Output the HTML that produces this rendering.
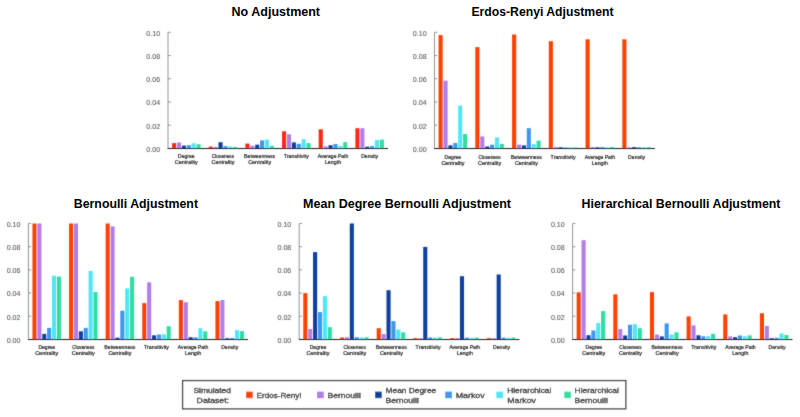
<!DOCTYPE html>
<html><head><meta charset="utf-8"><title>Chart</title>
<style>html,body{margin:0;padding:0;background:#fff;width:800px;height:417px;overflow:hidden;}svg{display:block;font-family:"Liberation Sans",sans-serif;}</style>
</head><body><div id="w">
<svg width="800" height="417" viewBox="0 0 800 417">
<defs><filter id="bl" x="0" y="0" width="100%" height="100%" filterUnits="userSpaceOnUse"><feConvolveMatrix order="3" kernelMatrix="1 2 1 2 20 2 1 2 1" divisor="32" edgeMode="duplicate" preserveAlpha="false"/></filter></defs>
<rect x="0" y="0" width="800" height="417" fill="#ffffff"/>
<g filter="url(#bl)">
<text x="160.1" y="151.8" font-family="Liberation Sans" font-size="7.9" fill="#5a5a5a" stroke="#5a5a5a" stroke-width="0.1" text-anchor="end" textLength="13.8" lengthAdjust="spacingAndGlyphs">0.00</text>
<text x="160.1" y="128.58" font-family="Liberation Sans" font-size="7.9" fill="#5a5a5a" stroke="#5a5a5a" stroke-width="0.1" text-anchor="end" textLength="13.8" lengthAdjust="spacingAndGlyphs">0.02</text>
<text x="160.1" y="105.36" font-family="Liberation Sans" font-size="7.9" fill="#5a5a5a" stroke="#5a5a5a" stroke-width="0.1" text-anchor="end" textLength="13.8" lengthAdjust="spacingAndGlyphs">0.04</text>
<text x="160.1" y="82.14" font-family="Liberation Sans" font-size="7.9" fill="#5a5a5a" stroke="#5a5a5a" stroke-width="0.1" text-anchor="end" textLength="13.8" lengthAdjust="spacingAndGlyphs">0.06</text>
<text x="160.1" y="58.92" font-family="Liberation Sans" font-size="7.9" fill="#5a5a5a" stroke="#5a5a5a" stroke-width="0.1" text-anchor="end" textLength="13.8" lengthAdjust="spacingAndGlyphs">0.08</text>
<text x="160.1" y="35.7" font-family="Liberation Sans" font-size="7.9" fill="#5a5a5a" stroke="#5a5a5a" stroke-width="0.1" text-anchor="end" textLength="13.8" lengthAdjust="spacingAndGlyphs">0.10</text>
<rect x="172.07" y="143.1" width="4.09" height="5.3" fill="#ff2612"/>
<rect x="176.96" y="142.5" width="4.09" height="5.9" fill="#b07de9"/>
<rect x="181.84" y="145.6" width="4.09" height="2.8" fill="#0c409e"/>
<rect x="186.73" y="145.2" width="4.09" height="3.2" fill="#3c96f0"/>
<rect x="191.62" y="143.3" width="4.09" height="5.1" fill="#4fe7f5"/>
<rect x="196.51" y="144.2" width="4.09" height="4.2" fill="#2edf9f"/>
<text x="186.33" y="158" font-family="Liberation Sans" font-size="5.7" fill="#262626" stroke="#262626" stroke-width="0.22" text-anchor="middle" textLength="16.6" lengthAdjust="spacingAndGlyphs">Degree</text>
<text x="186.33" y="163.8" font-family="Liberation Sans" font-size="5.7" fill="#262626" stroke="#262626" stroke-width="0.22" text-anchor="middle" textLength="23" lengthAdjust="spacingAndGlyphs">Centrality</text>
<rect x="208.73" y="146.6" width="4.09" height="1.8" fill="#ff2612"/>
<rect x="213.62" y="147" width="4.09" height="1.4" fill="#b07de9"/>
<rect x="218.51" y="142.2" width="4.09" height="6.2" fill="#0c409e"/>
<rect x="223.4" y="146.2" width="4.09" height="2.2" fill="#3c96f0"/>
<rect x="228.29" y="146.4" width="4.09" height="2" fill="#4fe7f5"/>
<rect x="233.18" y="146.9" width="4.09" height="1.5" fill="#2edf9f"/>
<text x="223" y="158" font-family="Liberation Sans" font-size="5.7" fill="#262626" stroke="#262626" stroke-width="0.22" text-anchor="middle" textLength="22.3" lengthAdjust="spacingAndGlyphs">Closeness</text>
<text x="223" y="163.8" font-family="Liberation Sans" font-size="5.7" fill="#262626" stroke="#262626" stroke-width="0.22" text-anchor="middle" textLength="23" lengthAdjust="spacingAndGlyphs">Centrality</text>
<rect x="245.4" y="143.6" width="4.09" height="4.8" fill="#ff2612"/>
<rect x="250.29" y="145.8" width="4.09" height="2.6" fill="#b07de9"/>
<rect x="255.18" y="144.7" width="4.09" height="3.7" fill="#0c409e"/>
<rect x="260.07" y="140.4" width="4.09" height="8" fill="#3c96f0"/>
<rect x="264.96" y="139.6" width="4.09" height="8.8" fill="#4fe7f5"/>
<rect x="269.84" y="145.9" width="4.09" height="2.5" fill="#2edf9f"/>
<text x="259.67" y="158" font-family="Liberation Sans" font-size="5.7" fill="#262626" stroke="#262626" stroke-width="0.22" text-anchor="middle" textLength="31.1" lengthAdjust="spacingAndGlyphs">Betweenness</text>
<text x="259.67" y="163.8" font-family="Liberation Sans" font-size="5.7" fill="#262626" stroke="#262626" stroke-width="0.22" text-anchor="middle" textLength="23" lengthAdjust="spacingAndGlyphs">Centrality</text>
<rect x="282.07" y="131.3" width="4.09" height="17.1" fill="#ff2612"/>
<rect x="286.96" y="134.3" width="4.09" height="14.1" fill="#b07de9"/>
<rect x="291.84" y="142.4" width="4.09" height="6" fill="#0c409e"/>
<rect x="296.73" y="143.8" width="4.09" height="4.6" fill="#3c96f0"/>
<rect x="301.62" y="139.1" width="4.09" height="9.3" fill="#4fe7f5"/>
<rect x="306.51" y="143.1" width="4.09" height="5.3" fill="#2edf9f"/>
<text x="296.33" y="158" font-family="Liberation Sans" font-size="5.7" fill="#262626" stroke="#262626" stroke-width="0.22" text-anchor="middle" textLength="25" lengthAdjust="spacingAndGlyphs">Transitivity</text>
<rect x="318.73" y="129.3" width="4.09" height="19.1" fill="#ff2612"/>
<rect x="323.62" y="146.4" width="4.09" height="2" fill="#b07de9"/>
<rect x="328.51" y="145.2" width="4.09" height="3.2" fill="#0c409e"/>
<rect x="333.4" y="144" width="4.09" height="4.4" fill="#3c96f0"/>
<rect x="338.29" y="145.9" width="4.09" height="2.5" fill="#4fe7f5"/>
<rect x="343.18" y="142.1" width="4.09" height="6.3" fill="#2edf9f"/>
<text x="333" y="158" font-family="Liberation Sans" font-size="5.7" fill="#262626" stroke="#262626" stroke-width="0.22" text-anchor="middle" textLength="30.5" lengthAdjust="spacingAndGlyphs">Average Path</text>
<text x="333" y="163.8" font-family="Liberation Sans" font-size="5.7" fill="#262626" stroke="#262626" stroke-width="0.22" text-anchor="middle" textLength="16.2" lengthAdjust="spacingAndGlyphs">Length</text>
<rect x="355.4" y="128.2" width="4.09" height="20.2" fill="#ff2612"/>
<rect x="360.29" y="128.2" width="4.09" height="20.2" fill="#b07de9"/>
<rect x="365.18" y="146.7" width="4.09" height="1.7" fill="#0c409e"/>
<rect x="370.07" y="146.1" width="4.09" height="2.3" fill="#3c96f0"/>
<rect x="374.96" y="139.9" width="4.09" height="8.5" fill="#4fe7f5"/>
<rect x="379.84" y="139.6" width="4.09" height="8.8" fill="#2edf9f"/>
<text x="369.67" y="158" font-family="Liberation Sans" font-size="5.7" fill="#262626" stroke="#262626" stroke-width="0.22" text-anchor="middle" textLength="17" lengthAdjust="spacingAndGlyphs">Density</text>
<line x1="168" y1="32.3" x2="168" y2="148.5" stroke="#8f959c" stroke-width="1"/>
<line x1="168" y1="148.4" x2="170.8" y2="148.4" stroke="#8a8a8a" stroke-width="0.9"/>
<line x1="168" y1="125.18" x2="170.8" y2="125.18" stroke="#8a8a8a" stroke-width="0.9"/>
<line x1="168" y1="101.96" x2="170.8" y2="101.96" stroke="#8a8a8a" stroke-width="0.9"/>
<line x1="168" y1="78.74" x2="170.8" y2="78.74" stroke="#8a8a8a" stroke-width="0.9"/>
<line x1="168" y1="55.52" x2="170.8" y2="55.52" stroke="#8a8a8a" stroke-width="0.9"/>
<line x1="168" y1="32.3" x2="170.8" y2="32.3" stroke="#8a8a8a" stroke-width="0.9"/>
<line x1="167.5" y1="148.5" x2="388" y2="148.5" stroke="#222" stroke-width="1.1"/>
<text x="426.6" y="151.8" font-family="Liberation Sans" font-size="7.9" fill="#5a5a5a" stroke="#5a5a5a" stroke-width="0.1" text-anchor="end" textLength="13.8" lengthAdjust="spacingAndGlyphs">0.00</text>
<text x="426.6" y="128.58" font-family="Liberation Sans" font-size="7.9" fill="#5a5a5a" stroke="#5a5a5a" stroke-width="0.1" text-anchor="end" textLength="13.8" lengthAdjust="spacingAndGlyphs">0.02</text>
<text x="426.6" y="105.36" font-family="Liberation Sans" font-size="7.9" fill="#5a5a5a" stroke="#5a5a5a" stroke-width="0.1" text-anchor="end" textLength="13.8" lengthAdjust="spacingAndGlyphs">0.04</text>
<text x="426.6" y="82.14" font-family="Liberation Sans" font-size="7.9" fill="#5a5a5a" stroke="#5a5a5a" stroke-width="0.1" text-anchor="end" textLength="13.8" lengthAdjust="spacingAndGlyphs">0.06</text>
<text x="426.6" y="58.92" font-family="Liberation Sans" font-size="7.9" fill="#5a5a5a" stroke="#5a5a5a" stroke-width="0.1" text-anchor="end" textLength="13.8" lengthAdjust="spacingAndGlyphs">0.08</text>
<text x="426.6" y="35.7" font-family="Liberation Sans" font-size="7.9" fill="#5a5a5a" stroke="#5a5a5a" stroke-width="0.1" text-anchor="end" textLength="13.8" lengthAdjust="spacingAndGlyphs">0.10</text>
<rect x="438.57" y="35.1" width="4.1" height="113.3" fill="#ff4100"/>
<rect x="443.47" y="80.7" width="4.1" height="67.7" fill="#b07de9"/>
<rect x="448.38" y="145.3" width="4.1" height="3.1" fill="#0c409e"/>
<rect x="453.27" y="143" width="4.1" height="5.4" fill="#3c96f0"/>
<rect x="458.18" y="105.6" width="4.1" height="42.8" fill="#4fe7f5"/>
<rect x="463.07" y="134" width="4.1" height="14.4" fill="#2edf9f"/>
<text x="452.88" y="159.1" font-family="Liberation Sans" font-size="5.7" fill="#262626" stroke="#262626" stroke-width="0.22" text-anchor="middle" textLength="16.6" lengthAdjust="spacingAndGlyphs">Degree</text>
<text x="452.88" y="164.9" font-family="Liberation Sans" font-size="5.7" fill="#262626" stroke="#262626" stroke-width="0.22" text-anchor="middle" textLength="23" lengthAdjust="spacingAndGlyphs">Centrality</text>
<rect x="475.32" y="47.1" width="4.1" height="101.3" fill="#ff4100"/>
<rect x="480.22" y="136.4" width="4.1" height="12" fill="#b07de9"/>
<rect x="485.12" y="146.5" width="4.1" height="1.9" fill="#0c409e"/>
<rect x="490.02" y="144.7" width="4.1" height="3.7" fill="#3c96f0"/>
<rect x="494.93" y="137.4" width="4.1" height="11" fill="#4fe7f5"/>
<rect x="499.82" y="143.9" width="4.1" height="4.5" fill="#2edf9f"/>
<text x="489.62" y="159.1" font-family="Liberation Sans" font-size="5.7" fill="#262626" stroke="#262626" stroke-width="0.22" text-anchor="middle" textLength="22.3" lengthAdjust="spacingAndGlyphs">Closeness</text>
<text x="489.62" y="164.9" font-family="Liberation Sans" font-size="5.7" fill="#262626" stroke="#262626" stroke-width="0.22" text-anchor="middle" textLength="23" lengthAdjust="spacingAndGlyphs">Centrality</text>
<rect x="512.08" y="34.5" width="4.1" height="113.9" fill="#ff4100"/>
<rect x="516.98" y="144.6" width="4.1" height="3.8" fill="#b07de9"/>
<rect x="521.88" y="145.4" width="4.1" height="3" fill="#0c409e"/>
<rect x="526.77" y="128.2" width="4.1" height="20.2" fill="#3c96f0"/>
<rect x="531.67" y="144.1" width="4.1" height="4.3" fill="#4fe7f5"/>
<rect x="536.57" y="140.7" width="4.1" height="7.7" fill="#2edf9f"/>
<text x="526.38" y="159.1" font-family="Liberation Sans" font-size="5.7" fill="#262626" stroke="#262626" stroke-width="0.22" text-anchor="middle" textLength="31.1" lengthAdjust="spacingAndGlyphs">Betweenness</text>
<text x="526.38" y="164.9" font-family="Liberation Sans" font-size="5.7" fill="#262626" stroke="#262626" stroke-width="0.22" text-anchor="middle" textLength="23" lengthAdjust="spacingAndGlyphs">Centrality</text>
<rect x="548.82" y="41.2" width="4.1" height="107.2" fill="#ff4100"/>
<rect x="553.72" y="147.1" width="4.1" height="1.3" fill="#b07de9"/>
<rect x="558.62" y="147.3" width="4.1" height="1.1" fill="#0c409e"/>
<rect x="563.52" y="147.4" width="4.1" height="1" fill="#3c96f0"/>
<rect x="568.42" y="147.4" width="4.1" height="1" fill="#4fe7f5"/>
<rect x="573.32" y="147.4" width="4.1" height="1" fill="#2edf9f"/>
<text x="563.12" y="159.1" font-family="Liberation Sans" font-size="5.7" fill="#262626" stroke="#262626" stroke-width="0.22" text-anchor="middle" textLength="25" lengthAdjust="spacingAndGlyphs">Transitivity</text>
<rect x="585.57" y="39.3" width="4.1" height="109.1" fill="#ff4100"/>
<rect x="590.47" y="147.1" width="4.1" height="1.3" fill="#b07de9"/>
<rect x="595.37" y="147.3" width="4.1" height="1.1" fill="#0c409e"/>
<rect x="600.27" y="147.1" width="4.1" height="1.3" fill="#3c96f0"/>
<rect x="605.17" y="147.3" width="4.1" height="1.1" fill="#4fe7f5"/>
<rect x="610.07" y="147.1" width="4.1" height="1.3" fill="#2edf9f"/>
<text x="599.88" y="159.1" font-family="Liberation Sans" font-size="5.7" fill="#262626" stroke="#262626" stroke-width="0.22" text-anchor="middle" textLength="30.5" lengthAdjust="spacingAndGlyphs">Average Path</text>
<text x="599.88" y="164.9" font-family="Liberation Sans" font-size="5.7" fill="#262626" stroke="#262626" stroke-width="0.22" text-anchor="middle" textLength="16.2" lengthAdjust="spacingAndGlyphs">Length</text>
<rect x="622.32" y="39.3" width="4.1" height="109.1" fill="#ff4100"/>
<rect x="627.22" y="147.3" width="4.1" height="1.1" fill="#b07de9"/>
<rect x="632.12" y="147.1" width="4.1" height="1.3" fill="#0c409e"/>
<rect x="637.02" y="147.3" width="4.1" height="1.1" fill="#3c96f0"/>
<rect x="641.92" y="147.3" width="4.1" height="1.1" fill="#4fe7f5"/>
<rect x="646.82" y="147.3" width="4.1" height="1.1" fill="#2edf9f"/>
<text x="636.62" y="159.1" font-family="Liberation Sans" font-size="5.7" fill="#262626" stroke="#262626" stroke-width="0.22" text-anchor="middle" textLength="17" lengthAdjust="spacingAndGlyphs">Density</text>
<line x1="434.5" y1="32.3" x2="434.5" y2="148.5" stroke="#8f959c" stroke-width="1"/>
<line x1="434.5" y1="148.4" x2="437.3" y2="148.4" stroke="#8a8a8a" stroke-width="0.9"/>
<line x1="434.5" y1="125.18" x2="437.3" y2="125.18" stroke="#8a8a8a" stroke-width="0.9"/>
<line x1="434.5" y1="101.96" x2="437.3" y2="101.96" stroke="#8a8a8a" stroke-width="0.9"/>
<line x1="434.5" y1="78.74" x2="437.3" y2="78.74" stroke="#8a8a8a" stroke-width="0.9"/>
<line x1="434.5" y1="55.52" x2="437.3" y2="55.52" stroke="#8a8a8a" stroke-width="0.9"/>
<line x1="434.5" y1="32.3" x2="437.3" y2="32.3" stroke="#8a8a8a" stroke-width="0.9"/>
<line x1="434" y1="148.5" x2="655" y2="148.5" stroke="#222" stroke-width="1.1"/>
<text x="20.5" y="342.8" font-family="Liberation Sans" font-size="7.9" fill="#5a5a5a" stroke="#5a5a5a" stroke-width="0.1" text-anchor="end" textLength="13.8" lengthAdjust="spacingAndGlyphs">0.00</text>
<text x="20.5" y="319.62" font-family="Liberation Sans" font-size="7.9" fill="#5a5a5a" stroke="#5a5a5a" stroke-width="0.1" text-anchor="end" textLength="13.8" lengthAdjust="spacingAndGlyphs">0.02</text>
<text x="20.5" y="296.44" font-family="Liberation Sans" font-size="7.9" fill="#5a5a5a" stroke="#5a5a5a" stroke-width="0.1" text-anchor="end" textLength="13.8" lengthAdjust="spacingAndGlyphs">0.04</text>
<text x="20.5" y="273.26" font-family="Liberation Sans" font-size="7.9" fill="#5a5a5a" stroke="#5a5a5a" stroke-width="0.1" text-anchor="end" textLength="13.8" lengthAdjust="spacingAndGlyphs">0.06</text>
<text x="20.5" y="250.08" font-family="Liberation Sans" font-size="7.9" fill="#5a5a5a" stroke="#5a5a5a" stroke-width="0.1" text-anchor="end" textLength="13.8" lengthAdjust="spacingAndGlyphs">0.08</text>
<text x="20.5" y="226.9" font-family="Liberation Sans" font-size="7.9" fill="#5a5a5a" stroke="#5a5a5a" stroke-width="0.1" text-anchor="end" textLength="13.8" lengthAdjust="spacingAndGlyphs">0.10</text>
<rect x="32.46" y="223.5" width="4.08" height="115.9" fill="#ff4100"/>
<rect x="37.34" y="223.5" width="4.08" height="115.9" fill="#b07de9"/>
<rect x="42.22" y="333.9" width="4.08" height="5.5" fill="#0c409e"/>
<rect x="47.1" y="327.9" width="4.08" height="11.5" fill="#3c96f0"/>
<rect x="51.98" y="275.7" width="4.08" height="63.7" fill="#4fe7f5"/>
<rect x="56.86" y="276.6" width="4.08" height="62.8" fill="#2edf9f"/>
<text x="46.7" y="349.3" font-family="Liberation Sans" font-size="5.7" fill="#262626" stroke="#262626" stroke-width="0.22" text-anchor="middle" textLength="16.6" lengthAdjust="spacingAndGlyphs">Degree</text>
<text x="46.7" y="355.1" font-family="Liberation Sans" font-size="5.7" fill="#262626" stroke="#262626" stroke-width="0.22" text-anchor="middle" textLength="23" lengthAdjust="spacingAndGlyphs">Centrality</text>
<rect x="69.06" y="223.5" width="4.08" height="115.9" fill="#ff4100"/>
<rect x="73.94" y="223.5" width="4.08" height="115.9" fill="#b07de9"/>
<rect x="78.82" y="331.3" width="4.08" height="8.1" fill="#0c409e"/>
<rect x="83.7" y="327.9" width="4.08" height="11.5" fill="#3c96f0"/>
<rect x="88.58" y="271" width="4.08" height="68.4" fill="#4fe7f5"/>
<rect x="93.46" y="292" width="4.08" height="47.4" fill="#2edf9f"/>
<text x="83.3" y="349.3" font-family="Liberation Sans" font-size="5.7" fill="#262626" stroke="#262626" stroke-width="0.22" text-anchor="middle" textLength="22.3" lengthAdjust="spacingAndGlyphs">Closeness</text>
<text x="83.3" y="355.1" font-family="Liberation Sans" font-size="5.7" fill="#262626" stroke="#262626" stroke-width="0.22" text-anchor="middle" textLength="23" lengthAdjust="spacingAndGlyphs">Centrality</text>
<rect x="105.66" y="223.5" width="4.08" height="115.9" fill="#ff4100"/>
<rect x="110.54" y="226.4" width="4.08" height="113" fill="#b07de9"/>
<rect x="115.42" y="337.7" width="4.08" height="1.7" fill="#0c409e"/>
<rect x="120.3" y="310.7" width="4.08" height="28.7" fill="#3c96f0"/>
<rect x="125.18" y="288.4" width="4.08" height="51" fill="#4fe7f5"/>
<rect x="130.06" y="276.8" width="4.08" height="62.6" fill="#2edf9f"/>
<text x="119.9" y="349.3" font-family="Liberation Sans" font-size="5.7" fill="#262626" stroke="#262626" stroke-width="0.22" text-anchor="middle" textLength="31.1" lengthAdjust="spacingAndGlyphs">Betweenness</text>
<text x="119.9" y="355.1" font-family="Liberation Sans" font-size="5.7" fill="#262626" stroke="#262626" stroke-width="0.22" text-anchor="middle" textLength="23" lengthAdjust="spacingAndGlyphs">Centrality</text>
<rect x="142.26" y="303.1" width="4.08" height="36.3" fill="#ff4100"/>
<rect x="147.14" y="282.3" width="4.08" height="57.1" fill="#b07de9"/>
<rect x="152.02" y="335.3" width="4.08" height="4.1" fill="#0c409e"/>
<rect x="156.9" y="334.5" width="4.08" height="4.9" fill="#3c96f0"/>
<rect x="161.78" y="334.2" width="4.08" height="5.2" fill="#4fe7f5"/>
<rect x="166.66" y="326.2" width="4.08" height="13.2" fill="#2edf9f"/>
<text x="156.5" y="349.3" font-family="Liberation Sans" font-size="5.7" fill="#262626" stroke="#262626" stroke-width="0.22" text-anchor="middle" textLength="25" lengthAdjust="spacingAndGlyphs">Transitivity</text>
<rect x="178.86" y="300.1" width="4.08" height="39.3" fill="#ff4100"/>
<rect x="183.74" y="302.2" width="4.08" height="37.2" fill="#b07de9"/>
<rect x="188.62" y="337.2" width="4.08" height="2.2" fill="#0c409e"/>
<rect x="193.5" y="337.3" width="4.08" height="2.1" fill="#3c96f0"/>
<rect x="198.38" y="328.2" width="4.08" height="11.2" fill="#4fe7f5"/>
<rect x="203.26" y="331.3" width="4.08" height="8.1" fill="#2edf9f"/>
<text x="193.1" y="349.3" font-family="Liberation Sans" font-size="5.7" fill="#262626" stroke="#262626" stroke-width="0.22" text-anchor="middle" textLength="30.5" lengthAdjust="spacingAndGlyphs">Average Path</text>
<text x="193.1" y="355.1" font-family="Liberation Sans" font-size="5.7" fill="#262626" stroke="#262626" stroke-width="0.22" text-anchor="middle" textLength="16.2" lengthAdjust="spacingAndGlyphs">Length</text>
<rect x="215.46" y="301.1" width="4.08" height="38.3" fill="#ff4100"/>
<rect x="220.34" y="300.1" width="4.08" height="39.3" fill="#b07de9"/>
<rect x="225.22" y="338.2" width="4.08" height="1.2" fill="#0c409e"/>
<rect x="230.1" y="337.9" width="4.08" height="1.5" fill="#3c96f0"/>
<rect x="234.98" y="330.1" width="4.08" height="9.3" fill="#4fe7f5"/>
<rect x="239.86" y="331.1" width="4.08" height="8.3" fill="#2edf9f"/>
<text x="229.7" y="349.3" font-family="Liberation Sans" font-size="5.7" fill="#262626" stroke="#262626" stroke-width="0.22" text-anchor="middle" textLength="17" lengthAdjust="spacingAndGlyphs">Density</text>
<line x1="28.4" y1="223.5" x2="28.4" y2="339.5" stroke="#8f959c" stroke-width="1"/>
<line x1="28.4" y1="339.4" x2="31.2" y2="339.4" stroke="#8a8a8a" stroke-width="0.9"/>
<line x1="28.4" y1="316.22" x2="31.2" y2="316.22" stroke="#8a8a8a" stroke-width="0.9"/>
<line x1="28.4" y1="293.04" x2="31.2" y2="293.04" stroke="#8a8a8a" stroke-width="0.9"/>
<line x1="28.4" y1="269.86" x2="31.2" y2="269.86" stroke="#8a8a8a" stroke-width="0.9"/>
<line x1="28.4" y1="246.68" x2="31.2" y2="246.68" stroke="#8a8a8a" stroke-width="0.9"/>
<line x1="28.4" y1="223.5" x2="31.2" y2="223.5" stroke="#8a8a8a" stroke-width="0.9"/>
<line x1="27.9" y1="339.5" x2="248" y2="339.5" stroke="#222" stroke-width="1.1"/>
<text x="291.3" y="342.8" font-family="Liberation Sans" font-size="7.9" fill="#5a5a5a" stroke="#5a5a5a" stroke-width="0.1" text-anchor="end" textLength="13.8" lengthAdjust="spacingAndGlyphs">0.00</text>
<text x="291.3" y="319.62" font-family="Liberation Sans" font-size="7.9" fill="#5a5a5a" stroke="#5a5a5a" stroke-width="0.1" text-anchor="end" textLength="13.8" lengthAdjust="spacingAndGlyphs">0.02</text>
<text x="291.3" y="296.44" font-family="Liberation Sans" font-size="7.9" fill="#5a5a5a" stroke="#5a5a5a" stroke-width="0.1" text-anchor="end" textLength="13.8" lengthAdjust="spacingAndGlyphs">0.04</text>
<text x="291.3" y="273.26" font-family="Liberation Sans" font-size="7.9" fill="#5a5a5a" stroke="#5a5a5a" stroke-width="0.1" text-anchor="end" textLength="13.8" lengthAdjust="spacingAndGlyphs">0.06</text>
<text x="291.3" y="250.08" font-family="Liberation Sans" font-size="7.9" fill="#5a5a5a" stroke="#5a5a5a" stroke-width="0.1" text-anchor="end" textLength="13.8" lengthAdjust="spacingAndGlyphs">0.08</text>
<text x="291.3" y="226.9" font-family="Liberation Sans" font-size="7.9" fill="#5a5a5a" stroke="#5a5a5a" stroke-width="0.1" text-anchor="end" textLength="13.8" lengthAdjust="spacingAndGlyphs">0.10</text>
<rect x="303.27" y="293.1" width="4.1" height="46.3" fill="#ff4100"/>
<rect x="308.17" y="329" width="4.1" height="10.4" fill="#b07de9"/>
<rect x="313.06" y="252.1" width="4.1" height="87.3" fill="#0c409e"/>
<rect x="317.96" y="312.1" width="4.1" height="27.3" fill="#3c96f0"/>
<rect x="322.85" y="296.1" width="4.1" height="43.3" fill="#4fe7f5"/>
<rect x="327.75" y="327.1" width="4.1" height="12.3" fill="#2edf9f"/>
<text x="317.96" y="349.3" font-family="Liberation Sans" font-size="5.7" fill="#262626" stroke="#262626" stroke-width="0.22" text-anchor="middle" textLength="16.6" lengthAdjust="spacingAndGlyphs">Degree</text>
<text x="317.96" y="355.1" font-family="Liberation Sans" font-size="5.7" fill="#262626" stroke="#262626" stroke-width="0.22" text-anchor="middle" textLength="23" lengthAdjust="spacingAndGlyphs">Centrality</text>
<rect x="339.99" y="337.5" width="4.1" height="1.9" fill="#ff4100"/>
<rect x="344.88" y="337.2" width="4.1" height="2.2" fill="#b07de9"/>
<rect x="349.78" y="223.5" width="4.1" height="115.9" fill="#0c409e"/>
<rect x="354.67" y="337.2" width="4.1" height="2.2" fill="#3c96f0"/>
<rect x="359.57" y="337.4" width="4.1" height="2" fill="#4fe7f5"/>
<rect x="364.47" y="337.3" width="4.1" height="2.1" fill="#2edf9f"/>
<text x="354.67" y="349.3" font-family="Liberation Sans" font-size="5.7" fill="#262626" stroke="#262626" stroke-width="0.22" text-anchor="middle" textLength="22.3" lengthAdjust="spacingAndGlyphs">Closeness</text>
<text x="354.67" y="355.1" font-family="Liberation Sans" font-size="5.7" fill="#262626" stroke="#262626" stroke-width="0.22" text-anchor="middle" textLength="23" lengthAdjust="spacingAndGlyphs">Centrality</text>
<rect x="376.7" y="328.2" width="4.1" height="11.2" fill="#ff4100"/>
<rect x="381.6" y="334.1" width="4.1" height="5.3" fill="#b07de9"/>
<rect x="386.5" y="290.2" width="4.1" height="49.2" fill="#0c409e"/>
<rect x="391.39" y="321.1" width="4.1" height="18.3" fill="#3c96f0"/>
<rect x="396.29" y="329.6" width="4.1" height="9.8" fill="#4fe7f5"/>
<rect x="401.18" y="332.3" width="4.1" height="7.1" fill="#2edf9f"/>
<text x="391.39" y="349.3" font-family="Liberation Sans" font-size="5.7" fill="#262626" stroke="#262626" stroke-width="0.22" text-anchor="middle" textLength="31.1" lengthAdjust="spacingAndGlyphs">Betweenness</text>
<text x="391.39" y="355.1" font-family="Liberation Sans" font-size="5.7" fill="#262626" stroke="#262626" stroke-width="0.22" text-anchor="middle" textLength="23" lengthAdjust="spacingAndGlyphs">Centrality</text>
<rect x="413.42" y="338.1" width="4.1" height="1.3" fill="#ff4100"/>
<rect x="418.32" y="338.1" width="4.1" height="1.3" fill="#b07de9"/>
<rect x="423.21" y="246.9" width="4.1" height="92.5" fill="#0c409e"/>
<rect x="428.11" y="337.4" width="4.1" height="2" fill="#3c96f0"/>
<rect x="433" y="337.6" width="4.1" height="1.8" fill="#4fe7f5"/>
<rect x="437.9" y="337.4" width="4.1" height="2" fill="#2edf9f"/>
<text x="428.11" y="349.3" font-family="Liberation Sans" font-size="5.7" fill="#262626" stroke="#262626" stroke-width="0.22" text-anchor="middle" textLength="25" lengthAdjust="spacingAndGlyphs">Transitivity</text>
<rect x="450.14" y="338.1" width="4.1" height="1.3" fill="#ff4100"/>
<rect x="455.03" y="338.1" width="4.1" height="1.3" fill="#b07de9"/>
<rect x="459.93" y="276.2" width="4.1" height="63.2" fill="#0c409e"/>
<rect x="464.82" y="337.6" width="4.1" height="1.8" fill="#3c96f0"/>
<rect x="469.72" y="337.8" width="4.1" height="1.6" fill="#4fe7f5"/>
<rect x="474.62" y="337.6" width="4.1" height="1.8" fill="#2edf9f"/>
<text x="464.82" y="349.3" font-family="Liberation Sans" font-size="5.7" fill="#262626" stroke="#262626" stroke-width="0.22" text-anchor="middle" textLength="30.5" lengthAdjust="spacingAndGlyphs">Average Path</text>
<text x="464.82" y="355.1" font-family="Liberation Sans" font-size="5.7" fill="#262626" stroke="#262626" stroke-width="0.22" text-anchor="middle" textLength="16.2" lengthAdjust="spacingAndGlyphs">Length</text>
<rect x="486.85" y="338.1" width="4.1" height="1.3" fill="#ff4100"/>
<rect x="491.75" y="338.1" width="4.1" height="1.3" fill="#b07de9"/>
<rect x="496.65" y="274.5" width="4.1" height="64.9" fill="#0c409e"/>
<rect x="501.54" y="337.6" width="4.1" height="1.8" fill="#3c96f0"/>
<rect x="506.44" y="337.8" width="4.1" height="1.6" fill="#4fe7f5"/>
<rect x="511.33" y="337.6" width="4.1" height="1.8" fill="#2edf9f"/>
<text x="501.54" y="349.3" font-family="Liberation Sans" font-size="5.7" fill="#262626" stroke="#262626" stroke-width="0.22" text-anchor="middle" textLength="17" lengthAdjust="spacingAndGlyphs">Density</text>
<line x1="299.2" y1="223.5" x2="299.2" y2="339.5" stroke="#8f959c" stroke-width="1"/>
<line x1="299.2" y1="339.4" x2="302" y2="339.4" stroke="#8a8a8a" stroke-width="0.9"/>
<line x1="299.2" y1="316.22" x2="302" y2="316.22" stroke="#8a8a8a" stroke-width="0.9"/>
<line x1="299.2" y1="293.04" x2="302" y2="293.04" stroke="#8a8a8a" stroke-width="0.9"/>
<line x1="299.2" y1="269.86" x2="302" y2="269.86" stroke="#8a8a8a" stroke-width="0.9"/>
<line x1="299.2" y1="246.68" x2="302" y2="246.68" stroke="#8a8a8a" stroke-width="0.9"/>
<line x1="299.2" y1="223.5" x2="302" y2="223.5" stroke="#8a8a8a" stroke-width="0.9"/>
<line x1="298.7" y1="339.5" x2="519.5" y2="339.5" stroke="#222" stroke-width="1.1"/>
<text x="564.7" y="342.8" font-family="Liberation Sans" font-size="7.9" fill="#5a5a5a" stroke="#5a5a5a" stroke-width="0.1" text-anchor="end" textLength="13.8" lengthAdjust="spacingAndGlyphs">0.00</text>
<text x="564.7" y="319.62" font-family="Liberation Sans" font-size="7.9" fill="#5a5a5a" stroke="#5a5a5a" stroke-width="0.1" text-anchor="end" textLength="13.8" lengthAdjust="spacingAndGlyphs">0.02</text>
<text x="564.7" y="296.44" font-family="Liberation Sans" font-size="7.9" fill="#5a5a5a" stroke="#5a5a5a" stroke-width="0.1" text-anchor="end" textLength="13.8" lengthAdjust="spacingAndGlyphs">0.04</text>
<text x="564.7" y="273.26" font-family="Liberation Sans" font-size="7.9" fill="#5a5a5a" stroke="#5a5a5a" stroke-width="0.1" text-anchor="end" textLength="13.8" lengthAdjust="spacingAndGlyphs">0.06</text>
<text x="564.7" y="250.08" font-family="Liberation Sans" font-size="7.9" fill="#5a5a5a" stroke="#5a5a5a" stroke-width="0.1" text-anchor="end" textLength="13.8" lengthAdjust="spacingAndGlyphs">0.08</text>
<text x="564.7" y="226.9" font-family="Liberation Sans" font-size="7.9" fill="#5a5a5a" stroke="#5a5a5a" stroke-width="0.1" text-anchor="end" textLength="13.8" lengthAdjust="spacingAndGlyphs">0.10</text>
<rect x="576.66" y="292.3" width="4.09" height="47.1" fill="#ff4100"/>
<rect x="581.55" y="240.2" width="4.09" height="99.2" fill="#b07de9"/>
<rect x="586.44" y="335.2" width="4.09" height="4.2" fill="#0c409e"/>
<rect x="591.32" y="330.5" width="4.09" height="8.9" fill="#3c96f0"/>
<rect x="596.21" y="323" width="4.09" height="16.4" fill="#4fe7f5"/>
<rect x="601.1" y="311.1" width="4.09" height="28.3" fill="#2edf9f"/>
<text x="593.83" y="349.3" font-family="Liberation Sans" font-size="5.7" fill="#262626" stroke="#262626" stroke-width="0.22" text-anchor="middle" textLength="16.6" lengthAdjust="spacingAndGlyphs">Degree</text>
<text x="593.83" y="355.1" font-family="Liberation Sans" font-size="5.7" fill="#262626" stroke="#262626" stroke-width="0.22" text-anchor="middle" textLength="23" lengthAdjust="spacingAndGlyphs">Centrality</text>
<rect x="613.31" y="294.3" width="4.09" height="45.1" fill="#ff4100"/>
<rect x="618.2" y="329" width="4.09" height="10.4" fill="#b07de9"/>
<rect x="623.09" y="335.5" width="4.09" height="3.9" fill="#0c409e"/>
<rect x="627.97" y="324.8" width="4.09" height="14.6" fill="#3c96f0"/>
<rect x="632.86" y="324.1" width="4.09" height="15.3" fill="#4fe7f5"/>
<rect x="637.75" y="328.2" width="4.09" height="11.2" fill="#2edf9f"/>
<text x="630.48" y="349.3" font-family="Liberation Sans" font-size="5.7" fill="#262626" stroke="#262626" stroke-width="0.22" text-anchor="middle" textLength="22.3" lengthAdjust="spacingAndGlyphs">Closeness</text>
<text x="630.48" y="355.1" font-family="Liberation Sans" font-size="5.7" fill="#262626" stroke="#262626" stroke-width="0.22" text-anchor="middle" textLength="23" lengthAdjust="spacingAndGlyphs">Centrality</text>
<rect x="649.96" y="292.1" width="4.09" height="47.3" fill="#ff4100"/>
<rect x="654.85" y="334.5" width="4.09" height="4.9" fill="#b07de9"/>
<rect x="659.74" y="336.4" width="4.09" height="3" fill="#0c409e"/>
<rect x="664.62" y="323.4" width="4.09" height="16" fill="#3c96f0"/>
<rect x="669.51" y="334.5" width="4.09" height="4.9" fill="#4fe7f5"/>
<rect x="674.4" y="332.3" width="4.09" height="7.1" fill="#2edf9f"/>
<text x="667.12" y="349.3" font-family="Liberation Sans" font-size="5.7" fill="#262626" stroke="#262626" stroke-width="0.22" text-anchor="middle" textLength="31.1" lengthAdjust="spacingAndGlyphs">Betweenness</text>
<text x="667.12" y="355.1" font-family="Liberation Sans" font-size="5.7" fill="#262626" stroke="#262626" stroke-width="0.22" text-anchor="middle" textLength="23" lengthAdjust="spacingAndGlyphs">Centrality</text>
<rect x="686.61" y="316.4" width="4.09" height="23" fill="#ff4100"/>
<rect x="691.5" y="325.3" width="4.09" height="14.1" fill="#b07de9"/>
<rect x="696.39" y="335.3" width="4.09" height="4.1" fill="#0c409e"/>
<rect x="701.27" y="336.3" width="4.09" height="3.1" fill="#3c96f0"/>
<rect x="706.16" y="336.2" width="4.09" height="3.2" fill="#4fe7f5"/>
<rect x="711.05" y="333.8" width="4.09" height="5.6" fill="#2edf9f"/>
<text x="703.77" y="349.3" font-family="Liberation Sans" font-size="5.7" fill="#262626" stroke="#262626" stroke-width="0.22" text-anchor="middle" textLength="25" lengthAdjust="spacingAndGlyphs">Transitivity</text>
<rect x="723.26" y="314.4" width="4.09" height="25" fill="#ff4100"/>
<rect x="728.15" y="336.4" width="4.09" height="3" fill="#b07de9"/>
<rect x="733.04" y="337.2" width="4.09" height="2.2" fill="#0c409e"/>
<rect x="737.92" y="335.5" width="4.09" height="3.9" fill="#3c96f0"/>
<rect x="742.81" y="336.3" width="4.09" height="3.1" fill="#4fe7f5"/>
<rect x="747.7" y="335.4" width="4.09" height="4" fill="#2edf9f"/>
<text x="740.43" y="349.3" font-family="Liberation Sans" font-size="5.7" fill="#262626" stroke="#262626" stroke-width="0.22" text-anchor="middle" textLength="30.5" lengthAdjust="spacingAndGlyphs">Average Path</text>
<text x="740.43" y="355.1" font-family="Liberation Sans" font-size="5.7" fill="#262626" stroke="#262626" stroke-width="0.22" text-anchor="middle" textLength="16.2" lengthAdjust="spacingAndGlyphs">Length</text>
<rect x="759.91" y="313.2" width="4.09" height="26.2" fill="#ff4100"/>
<rect x="764.8" y="325.9" width="4.09" height="13.5" fill="#b07de9"/>
<rect x="769.69" y="338.2" width="4.09" height="1.2" fill="#0c409e"/>
<rect x="774.57" y="337.8" width="4.09" height="1.6" fill="#3c96f0"/>
<rect x="779.46" y="333.5" width="4.09" height="5.9" fill="#4fe7f5"/>
<rect x="784.35" y="335" width="4.09" height="4.4" fill="#2edf9f"/>
<text x="777.08" y="349.3" font-family="Liberation Sans" font-size="5.7" fill="#262626" stroke="#262626" stroke-width="0.22" text-anchor="middle" textLength="17" lengthAdjust="spacingAndGlyphs">Density</text>
<line x1="572.6" y1="223.5" x2="572.6" y2="339.5" stroke="#8f959c" stroke-width="1"/>
<line x1="572.6" y1="339.4" x2="575.4" y2="339.4" stroke="#8a8a8a" stroke-width="0.9"/>
<line x1="572.6" y1="316.22" x2="575.4" y2="316.22" stroke="#8a8a8a" stroke-width="0.9"/>
<line x1="572.6" y1="293.04" x2="575.4" y2="293.04" stroke="#8a8a8a" stroke-width="0.9"/>
<line x1="572.6" y1="269.86" x2="575.4" y2="269.86" stroke="#8a8a8a" stroke-width="0.9"/>
<line x1="572.6" y1="246.68" x2="575.4" y2="246.68" stroke="#8a8a8a" stroke-width="0.9"/>
<line x1="572.6" y1="223.5" x2="575.4" y2="223.5" stroke="#8a8a8a" stroke-width="0.9"/>
<line x1="572.1" y1="339.5" x2="792.5" y2="339.5" stroke="#222" stroke-width="1.1"/>
<rect x="182.6" y="380.6" width="443.2" height="28.2" fill="#fff" stroke="#3a3a3a" stroke-width="1.3"/>
<text x="212.2" y="393.4" font-family="Liberation Sans" font-size="8.0" fill="#1e1e1e" stroke="#1e1e1e" stroke-width="0.3" text-anchor="middle" textLength="37.6" lengthAdjust="spacingAndGlyphs">Simulated</text>
<text x="212.8" y="403" font-family="Liberation Sans" font-size="8.0" fill="#1e1e1e" stroke="#1e1e1e" stroke-width="0.3" text-anchor="middle" textLength="32.4" lengthAdjust="spacingAndGlyphs">Dataset:</text>
<rect x="246" y="391.6" width="6.8" height="6.6" fill="#ff4100"/>
<rect x="317" y="391.6" width="6.8" height="6.6" fill="#b07de9"/>
<rect x="375" y="391.6" width="6.8" height="6.6" fill="#0c409e"/>
<rect x="445.2" y="391.6" width="6.8" height="6.6" fill="#3c96f0"/>
<rect x="496.3" y="391.6" width="6.8" height="6.6" fill="#4fe7f5"/>
<rect x="564.2" y="391.6" width="6.8" height="6.6" fill="#2edf9f"/>
<text x="256.6" y="398.4" font-family="Liberation Sans" font-size="8.0" fill="#1e1e1e" stroke="#1e1e1e" stroke-width="0.3" textLength="44.6" lengthAdjust="spacingAndGlyphs">Erdos-Renyi</text>
<text x="327.6" y="398.4" font-family="Liberation Sans" font-size="8.0" fill="#1e1e1e" stroke="#1e1e1e" stroke-width="0.3" textLength="33.2" lengthAdjust="spacingAndGlyphs">Bernoulli</text>
<text x="385.6" y="392.8" font-family="Liberation Sans" font-size="8.0" fill="#1e1e1e" stroke="#1e1e1e" stroke-width="0.3" textLength="50.6" lengthAdjust="spacingAndGlyphs">Mean Degree</text>
<text x="385.6" y="403" font-family="Liberation Sans" font-size="8.0" fill="#1e1e1e" stroke="#1e1e1e" stroke-width="0.3" textLength="33.2" lengthAdjust="spacingAndGlyphs">Bernoulli</text>
<text x="455.8" y="398.4" font-family="Liberation Sans" font-size="8.0" fill="#1e1e1e" stroke="#1e1e1e" stroke-width="0.3" textLength="28.8" lengthAdjust="spacingAndGlyphs">Markov</text>
<text x="507.2" y="392.8" font-family="Liberation Sans" font-size="8.0" fill="#1e1e1e" stroke="#1e1e1e" stroke-width="0.3" textLength="44.2" lengthAdjust="spacingAndGlyphs">Hierarchical</text>
<text x="507.2" y="403" font-family="Liberation Sans" font-size="8.0" fill="#1e1e1e" stroke="#1e1e1e" stroke-width="0.3" textLength="28.8" lengthAdjust="spacingAndGlyphs">Markov</text>
<text x="574.6" y="392.8" font-family="Liberation Sans" font-size="8.0" fill="#1e1e1e" stroke="#1e1e1e" stroke-width="0.3" textLength="44.2" lengthAdjust="spacingAndGlyphs">Hierarchical</text>
<text x="574.6" y="403" font-family="Liberation Sans" font-size="8.0" fill="#1e1e1e" stroke="#1e1e1e" stroke-width="0.3" textLength="33.2" lengthAdjust="spacingAndGlyphs">Bernoulli</text>
</g>
<text x="231.6" y="16" font-family="Liberation Sans" font-weight="bold" font-size="12.4" fill="#000" textLength="88.4" lengthAdjust="spacingAndGlyphs">No Adjustment</text>
<text x="471.4" y="16" font-family="Liberation Sans" font-weight="bold" font-size="12.4" fill="#000" textLength="142.1" lengthAdjust="spacingAndGlyphs">Erdos-Renyi Adjustment</text>
<text x="73.8" y="207.9" font-family="Liberation Sans" font-weight="bold" font-size="12.4" fill="#000" textLength="124.2" lengthAdjust="spacingAndGlyphs">Bernoulli Adjustment</text>
<text x="303.1" y="207.9" font-family="Liberation Sans" font-weight="bold" font-size="12.4" fill="#000" textLength="207.9" lengthAdjust="spacingAndGlyphs">Mean Degree Bernoulli Adjustment</text>
<text x="581.6" y="207.9" font-family="Liberation Sans" font-weight="bold" font-size="12.4" fill="#000" textLength="198.9" lengthAdjust="spacingAndGlyphs">Hierarchical Bernoulli Adjustment</text>
</svg>
</div></body></html>
